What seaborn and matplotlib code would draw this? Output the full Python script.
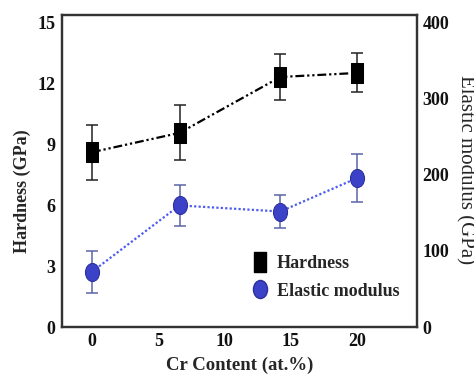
import numpy as np
import pandas as pd
import matplotlib
matplotlib.use("Agg")
import matplotlib.pyplot as plt
from matplotlib.path import Path
from matplotlib.transforms import Affine2D
from matplotlib.lines import Line2D
import seaborn as sns

# ---- data ----
cr_content = [0, 6.6, 14.2, 20]
hardness = [8.6, 9.55, 12.3, 12.5]
hardness_err = [1.35, 1.35, 1.13, 0.96]
modulus = [72.5, 159.5, 151.5, 195.5]
modulus_err = [27.7, 27.2, 22.0, 32.0]

x_ticks = [0, 5, 10, 15, 20]
left_ticks = [0, 3, 6, 9, 12, 15]
right_ticks = [0, 100, 200, 300, 400]

sns.set_theme(style="white")
plt.rcParams["font.family"] = ["Liberation Serif", "DejaVu Serif"]
plt.rcParams["font.weight"] = "bold"

df_h = pd.DataFrame({"x": cr_content, "y": hardness})
df_m = pd.DataFrame({"x": cr_content, "y": modulus})

# elongated markers (picture is stretched vertically)
sq_path = Path.unit_rectangle().transformed(Affine2D().translate(-0.5, -0.5).scale(0.63, 1.0))
circ_path = Path.unit_circle().transformed(Affine2D().scale(0.78, 1.0))

fig = plt.figure(figsize=(4.74, 3.74), dpi=100)
ax = fig.add_axes([62 / 474, 47 / 374, 355 / 474, 312 / 374])
ax2 = ax.twinx()

blue_line = "#4d5cf0"
blue_fill = "#3c42c8"
blue_edge = "#2a2f9a"
blue_err = "#5a64a8"

# hardness
ax.errorbar(cr_content, hardness, yerr=hardness_err, fmt="none", ecolor="#222222",
            elinewidth=1.1, capsize=4.6, capthick=1.1, zorder=2)
sns.lineplot(data=df_h, x="x", y="y", ax=ax, color="black", linewidth=1.6,
             linestyle=(0, (4, 1.3, 1, 1.3, 1, 1.3)), marker=sq_path, markersize=14.4,
             markerfacecolor="black", markeredgecolor="black", zorder=3)

# modulus
ax2.errorbar(cr_content, modulus, yerr=modulus_err, fmt="none", ecolor=blue_err,
             elinewidth=1.1, capsize=4.6, capthick=1.1, zorder=2)
sns.lineplot(data=df_m, x="x", y="y", ax=ax2, color=blue_line, linewidth=1.6,
             linestyle=(0, (1, 1)), marker=circ_path, markersize=13.0,
             markerfacecolor=blue_fill, markeredgecolor=blue_edge, zorder=3)

ax.set_xlim(-2.26, 24.5)
ax.set_ylim(0, 15.35)
ax2.set_ylim(0, 15.35 * 400 / 15)

ax.set_xticks(x_ticks)
ax.set_xticklabels([str(t) for t in x_ticks])
ax.set_yticks(left_ticks)
ax.set_yticklabels([str(t) for t in left_ticks])
ax2.set_yticks(right_ticks)
ax2.set_yticklabels([str(t) for t in right_ticks])

for a in (ax, ax2):
    a.tick_params(length=0, labelsize=13, colors="#111111")
    for lab in a.get_xticklabels() + a.get_yticklabels():
        lab.set_fontweight("bold")
    for s in a.spines.values():
        s.set_linewidth(1.6)
        s.set_color("#333333")
ax.tick_params(axis="x", pad=4)
ax.tick_params(axis="y", pad=5)
ax2.tick_params(axis="y", pad=4)

ax.set_xlabel("Cr Content (at.%)", fontsize=13.5, fontweight="bold", labelpad=5)
ax.set_ylabel("Hardness (GPa)", fontsize=13, fontweight="bold")
ax.yaxis.set_label_coords((31 - 62) / 355, (327 - 191) / 312)
ax2.set_ylabel("Elastic modulus (GPa)", fontsize=15, fontweight="normal",
               rotation=270, va="bottom", ha="center")
ax2.yaxis.set_label_coords((456 - 62) / 355, (327 - 170) / 312)

handles = [
    Line2D([], [], linestyle="none", marker=sq_path, markersize=14.4,
           markerfacecolor="black", markeredgecolor="black"),
    Line2D([], [], linestyle="none", marker=circ_path, markersize=13.0,
           markerfacecolor=blue_fill, markeredgecolor=blue_edge),
]
leg = ax.legend(handles, ["Hardness", "Elastic modulus"], loc="upper left",
                bbox_to_anchor=(0.486, 0.283), frameon=False, handlelength=1.0,
                handletextpad=0.45, labelspacing=0.6,
                prop={"weight": "bold", "size": 13})

ax.grid(False)
ax2.grid(False)
fig.savefig("out.png", dpi=100)
